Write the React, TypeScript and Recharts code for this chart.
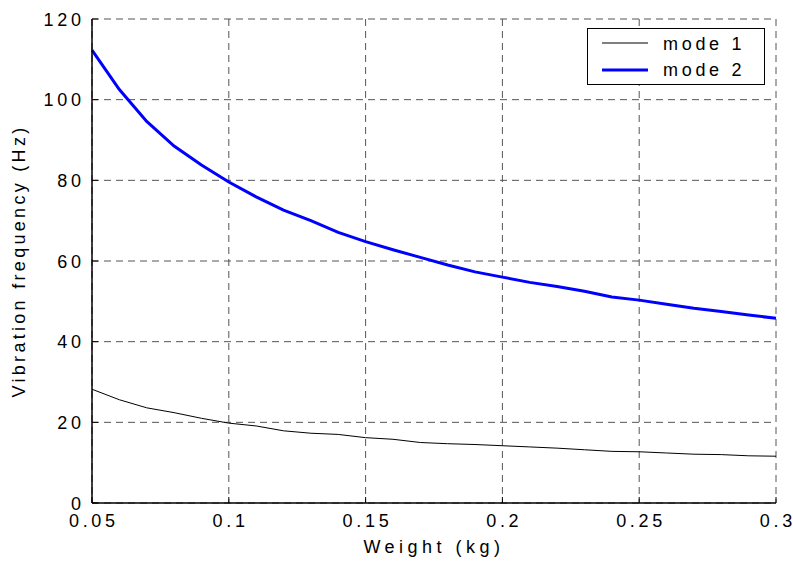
import { CartesianGrid, Line, LineChart, XAxis, YAxis } from "recharts"

const weights = [
  0.05, 0.06, 0.07, 0.08, 0.09, 0.1, 0.11, 0.12, 0.13, 0.14, 0.15, 0.16, 0.17,
  0.18, 0.19, 0.2, 0.21, 0.22, 0.23, 0.24, 0.25, 0.26, 0.27, 0.28, 0.29, 0.3,
]
const mode1 = [
  28.2, 25.6, 23.6, 22.4, 21.0, 19.8, 19.1, 17.9, 17.3, 17.0, 16.2, 15.8, 15.0,
  14.7, 14.5, 14.2, 13.9, 13.6, 13.2, 12.8, 12.7, 12.4, 12.1, 12.0, 11.7, 11.6,
]
const mode2 = [
  112.3, 102.5, 94.6, 88.5, 83.8, 79.6, 75.9, 72.6, 70.0, 67.1, 64.8, 62.8, 60.9,
  59.0, 57.3, 56.0, 54.7, 53.7, 52.5, 51.1, 50.3, 49.3, 48.3, 47.5, 46.6, 45.8,
]
const xTicks = [0.05, 0.1, 0.15, 0.2, 0.25, 0.3]
const yTicks = [0, 20, 40, 60, 80, 100, 120]
const seriesNames = ["mode 1", "mode 2"]

const data = weights.map((w, i) => ({ w, mode1: mode1[i], mode2: mode2[i] }))

const FONT = "'Liberation Sans', Arial, sans-serif"
const SPACING = 3.7

function XTick({ x, y, payload }: any) {
  return (
    <text x={x + SPACING / 2} y={y + 13} textAnchor="middle" fontSize={18} fontFamily={FONT} letterSpacing={SPACING} fill="#000">
      {payload.value}
    </text>
  )
}

function YTick({ x, y, payload }: any) {
  return (
    <text x={x + SPACING} y={y + 6.5} textAnchor="end" fontSize={18} fontFamily={FONT} letterSpacing={SPACING} fill="#000">
      {payload.value}
    </text>
  )
}

function XLabel({ viewBox }: any) {
  const cx = viewBox.x + viewBox.width / 2
  return (
    <text x={cx} y={553} textAnchor="middle" fontSize={18} fontFamily={FONT} letterSpacing={4.5} fill="#000">
      Weight (kg)
    </text>
  )
}

function YLabel({ viewBox }: any) {
  const cy = viewBox.y + viewBox.height / 2
  return (
    <text x={25} y={cy} transform={`rotate(-90 25 ${cy})`} textAnchor="middle" fontSize={18} fontFamily={FONT} letterSpacing={3.3} fill="#000">
      Vibration frequency (Hz)
    </text>
  )
}

// matlab-style legend box, placed over the chart's top-right corner
function LegendBox() {
  return (
    <svg width={178} height={57} style={{ position: "absolute", left: 587, top: 28, display: "block" }}>
      <rect x={0.5} y={0.5} width={177} height={56} fill="#fff" stroke="#000" />
      <line x1={15} x2={61} y1={15} y2={15} stroke="#000" strokeWidth={1} />
      <line x1={15} x2={61} y1={42} y2={42} stroke="#0000ff" strokeWidth={3} />
      <text x={76} y={21.5} fontSize={18} fontFamily={FONT} letterSpacing={SPACING} fill="#000">{seriesNames[0]}</text>
      <text x={76} y={47.5} fontSize={18} fontFamily={FONT} letterSpacing={SPACING} fill="#000">{seriesNames[1]}</text>
    </svg>
  )
}

export default function App() {
  return (
    <div style={{ position: "absolute", left: 0, top: 0, width: 793, height: 566, background: "#fff" }}>
      <LineChart width={793} height={566} data={data} margin={{ top: 19, right: 17, left: 0, bottom: 0 }}>
        <CartesianGrid stroke="#555" strokeDasharray="7 5" />
        <XAxis
          dataKey="w"
          type="number"
          domain={[0.05, 0.3]}
          ticks={xTicks}
          height={63}
          tickSize={-6}
          tickMargin={17}
          tick={<XTick />}
          axisLine={{ stroke: "#000", strokeWidth: 1.5 }}
          tickLine={{ stroke: "#000" }}
          label={<XLabel />}
        />
        <XAxis
          xAxisId="top"
          orientation="top"
          dataKey="w"
          type="number"
          domain={[0.05, 0.3]}
          ticks={xTicks}
          height={0}
          tickSize={-6}
          tick={false}
          axisLine={{ stroke: "#000", strokeWidth: 1.5 }}
          tickLine={{ stroke: "#000" }}
        />
        <YAxis
          type="number"
          domain={[0, 120]}
          ticks={yTicks}
          width={92}
          tickSize={-6}
          tickMargin={17}
          tick={<YTick />}
          axisLine={{ stroke: "#000", strokeWidth: 1.5 }}
          tickLine={{ stroke: "#000" }}
          label={<YLabel />}
        />
        <YAxis
          yAxisId="right"
          orientation="right"
          type="number"
          domain={[0, 120]}
          ticks={yTicks}
          width={0}
          tickSize={-6}
          tick={false}
          axisLine={{ stroke: "#000", strokeWidth: 1.5 }}
          tickLine={{ stroke: "#000" }}
        />
        <Line dataKey="mode1" name={seriesNames[0]} stroke="#000" strokeWidth={1} dot={false} isAnimationActive={false} />
        <Line dataKey="mode2" name={seriesNames[1]} stroke="#0000ff" strokeWidth={3} dot={false} isAnimationActive={false} />
      </LineChart>
      <LegendBox />
    </div>
  )
}
